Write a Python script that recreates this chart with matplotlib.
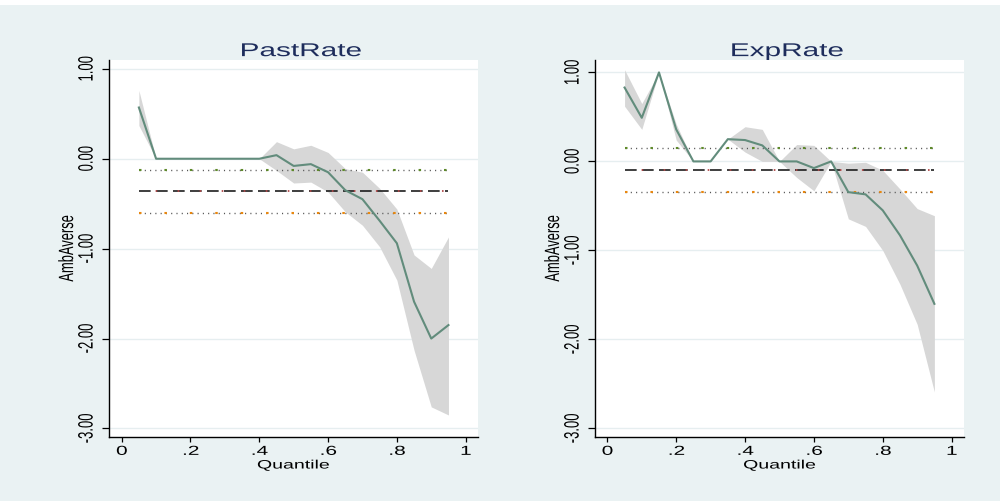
import numpy as np
import matplotlib.pyplot as plt
from matplotlib.patches import Rectangle
from matplotlib.patheffects import AbstractPathEffect
from matplotlib.transforms import Affine2D

plt.rcParams['font.family'] = ['Liberation Sans', 'DejaVu Sans']

quantiles = [0.05, 0.10, 0.15, 0.20, 0.25, 0.30, 0.35, 0.40, 0.45, 0.50,
             0.55, 0.60, 0.65, 0.70, 0.75, 0.80, 0.85, 0.90, 0.95]

# PastRate: quantile coefficients and confidence band
past_coef = [0.57, 0.0, 0.0, 0.0, 0.0, 0.0, 0.0, 0.0, 0.04, -0.08,
             -0.06, -0.15, -0.35, -0.45, -0.69, -0.94, -1.59, -2.00, -1.85]
past_hi = [0.76, 0.0, 0.0, 0.0, 0.0, 0.0, 0.0, 0.0, 0.19, 0.11,
           0.15, 0.07, -0.11, -0.15, -0.33, -0.56, -1.07, -1.22, -0.87]
past_lo = [0.37, 0.0, 0.0, 0.0, 0.0, 0.0, 0.0, 0.0, -0.13, -0.27,
           -0.26, -0.37, -0.59, -0.74, -0.98, -1.35, -2.13, -2.76, -2.85]
past_ols = -0.36
past_ols_ci = (-0.60, -0.13)

# ExpRate
exp_coef = [0.83, 0.49, 1.00, 0.36, 0.0, 0.0, 0.25, 0.24, 0.18, 0.0,
            0.0, -0.075, 0.0, -0.345, -0.37, -0.55, -0.83, -1.17, -1.60]
exp_hi = [1.03, 0.65, 1.00, 0.42, 0.0, 0.0, 0.25, 0.39, 0.36, 0.0,
          0.19, 0.18, 0.0, -0.02, -0.01, -0.10, -0.31, -0.53, -0.61]
exp_lo = [0.62, 0.36, 1.00, 0.24, 0.0, 0.0, 0.25, 0.105, 0.0, 0.0,
          -0.18, -0.33, 0.0, -0.645, -0.73, -1.00, -1.38, -1.83, -2.59]
exp_ols = -0.094
exp_ols_ci = (-0.345, 0.15)

xtick_vals = [0, 0.2, 0.4, 0.6, 0.8, 1.0]
xtick_text = ['0', '.2', '.4', '.6', '.8', '1']
ytick_vals = [1, 0, -1, -2, -3]
ytick_text = ['1.00', '0.00', '-1.00', '-2.00', '-3.00']

panels = [
    ('PastRate', past_coef, past_hi, past_lo, past_ols, past_ols_ci,
     [0.1093, 0.1281, 0.3684, 0.7519], (-0.036, 1.035), (-3.093, 1.097)),
    ('ExpRate', exp_coef, exp_hi, exp_lo, exp_ols, exp_ols_ci,
     [0.5953, 0.1281, 0.3687, 0.7519], (-0.035, 1.036), (-3.094, 1.138)),
]

bg = '#EAF2F3'
line_col = '#628C7C'
band_col = '#D7D7D7'
title_col = '#1E2D5C'


class StretchX(AbstractPathEffect):
    """Widen text glyphs horizontally around a fixed edge or the centre."""

    def __init__(self, sx=1.6, anchor='center'):
        super().__init__()
        self.sx = sx
        self.anchor = anchor

    def draw_path(self, renderer, gc, tpath, affine, rgbFace=None):
        verts = affine.transform(tpath.vertices)
        if len(verts):
            if self.anchor == 'right':
                cx = verts[:, 0].max()
            elif self.anchor == 'left':
                cx = verts[:, 0].min()
            else:
                cx = 0.5 * (verts[:, 0].min() + verts[:, 0].max())
            affine = affine + Affine2D().translate(-cx, 0).scale(self.sx, 1).translate(cx, 0)
        renderer.draw_path(gc, tpath, affine, rgbFace)


fig = plt.figure(figsize=(10, 5.01), dpi=100)
fig.patch.set_facecolor(bg)
fig.patches.append(Rectangle((0, 0.99), 1, 0.01, transform=fig.transFigure,
                             facecolor='white', edgecolor='none', zorder=0))

q0, q1 = quantiles[0], quantiles[-1]

for title, coef, hi, lo, ols, ols_ci, rect, xlim, ylim in panels:
    ax = fig.add_axes(rect)
    ax.set_facecolor('white')
    ax.fill_between(quantiles, lo, hi, color=band_col, linewidth=0, zorder=1)

    # upper CI (green dotted)
    ax.hlines(ols_ci[1], q0, q1, colors='#555555', linewidth=1.0,
              linestyles=(0, (0.8, 3.0)), zorder=2)
    ax.hlines(ols_ci[1], q0, q1, colors='#5E8A2A', linewidth=1.5,
              linestyles=(0, (1.2, 11.0)), zorder=2)
    # OLS estimate (long dash)
    ax.hlines(ols, q0, q1, colors='#1E1E1E', linewidth=1.2,
              linestyles=(0, (7.0, 3.2)), zorder=2)
    ax.hlines(ols, q0, q1, colors='#B04848', linewidth=1.3,
              linestyles=(3.0, (0.9, 11.3)), zorder=2)
    # lower CI (orange dotted)
    ax.hlines(ols_ci[0], q0, q1, colors='#555555', linewidth=1.0,
              linestyles=(0, (0.8, 3.0)), zorder=2)
    ax.hlines(ols_ci[0], q0, q1, colors='#E8870F', linewidth=1.5,
              linestyles=(0, (1.2, 11.0)), zorder=2)

    ax.plot(quantiles, coef, color=line_col, linewidth=1.5, zorder=3)

    ax.set_xlim(*xlim)
    ax.set_ylim(*ylim)
    ax.set_xticks(xtick_vals)
    ax.set_xticklabels(xtick_text)
    ax.set_yticks(ytick_vals)
    ax.set_yticklabels(ytick_text, rotation=90, va='center')
    ax.grid(axis='y', color='#E6EEF0', linewidth=1.0, zorder=0)
    ax.set_axisbelow(True)
    for s in ('top', 'right'):
        ax.spines[s].set_visible(False)
    for s in ('left', 'bottom'):
        ax.spines[s].set_color('black')
        ax.spines[s].set_linewidth(1.0)
    ax.tick_params(axis='x', length=3.6, width=0.9, labelsize=9.4, pad=2.9)
    ax.tick_params(axis='y', length=5, width=0.9, labelsize=9.4, pad=4.8)
    for lbl in ax.get_xticklabels():
        lbl.set_path_effects([StretchX(1.6, 'center')])
    for lbl in ax.get_yticklabels():
        lbl.set_path_effects([StretchX(1.6, 'right')])

    xl = ax.set_xlabel('Quantile', fontsize=8.8, labelpad=1.2)
    xl.set_path_effects([StretchX(1.6, 'center')])
    yl = ax.set_ylabel('AmbAverse', fontsize=9.3)
    ax.yaxis.set_label_coords(-0.090, 0.5)
    yl.set_path_effects([StretchX(1.6, 'right')])
    tt = ax.set_title(title, fontsize=13.4, color=title_col, pad=2, x=0.519)
    tt.set_path_effects([StretchX(1.6, 'center')])

fig.savefig('out.png', dpi=100, facecolor=bg)
